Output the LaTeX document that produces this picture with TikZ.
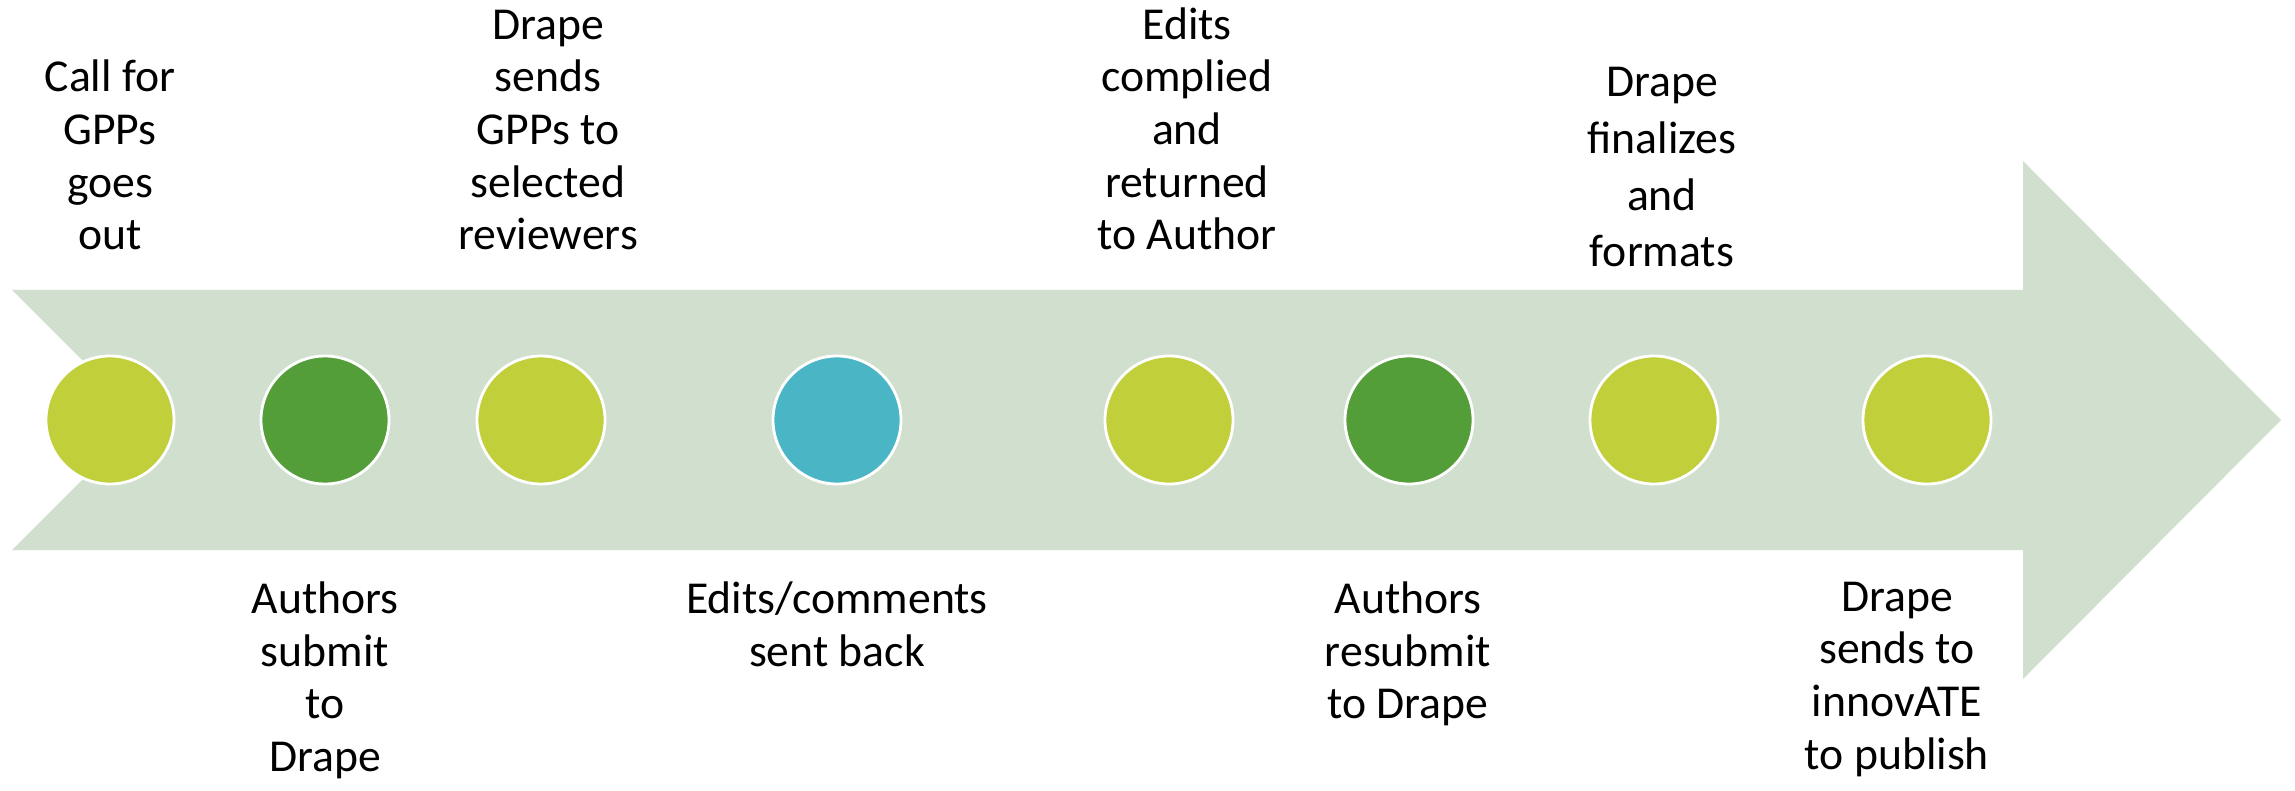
\documentclass[tikz,border=0pt]{standalone}
\usepackage{fontspec}
\setmainfont{Carlito}

\definecolor{bandgreen}{HTML}{D1E0CE}
\definecolor{stagelime}{HTML}{C0CF3A}
\definecolor{stagegreen}{HTML}{549E39}
\definecolor{stageblue}{HTML}{4AB5C4}

\begin{document}
\begin{tikzpicture}[
    stage/.style={circle,draw=white,line width=0.8pt,minimum size=1.28cm,inner sep=0pt},
    above label/.style={anchor=south,align=center,inner sep=0pt,font=\fontsize{13}{15}\selectfont},
    below label/.style={anchor=north,align=center,inner sep=0pt,font=\fontsize{13}{15}\selectfont}
]
    \useasboundingbox (0,-3.71) rectangle (22.95,4.20);

    % Timeline arrow with notched tail
    \fill[bandgreen] (0.12,1.30) -- (20.23,1.30) -- (20.23,2.59) -- (22.81,0)
        -- (20.23,-2.59) -- (20.23,-1.30) -- (0.12,-1.30) -- (1.42,0) -- cycle;

    % Stages along the arrow
    \node[stage,fill=stagelime]  (call)      at (1.10,0)  {};
    \node[stage,fill=stagegreen] (submit)    at (3.25,0)  {};
    \node[stage,fill=stagelime]  (review)    at (5.41,0)  {};
    \node[stage,fill=stageblue]  (comments)  at (8.37,0)  {};
    \node[stage,fill=stagelime]  (complied)  at (11.69,0) {};
    \node[stage,fill=stagegreen] (resubmit)  at (14.09,0) {};
    \node[stage,fill=stagelime]  (finalize)  at (16.54,0) {};
    \node[stage,fill=stagelime]  (publish)   at (19.27,0) {};

    % Labels above the arrow
    \node[above label] (call text)     at (1.10,1.69)  {Call for\\GPPs\\goes\\out};
    \node[above label] (review text)   at (5.48,1.69)  {Drape\\sends\\GPPs to\\selected\\reviewers};
    \node[above label] (complied text) at (11.87,1.69) {Edits\\complied\\and\\returned\\to Author};
    \node[above label,font=\fontsize{13}{16.2}\selectfont] (finalize text) at (16.62,1.52)
        {Drape\\finalizes\\and\\formats};

    % Labels below the arrow
    \node[below label] (submit text)   at (3.25,-1.61)  {Authors\\submit\\to\\Drape};
    \node[below label] (comments text) at (8.37,-1.61)  {Edits/comments\\sent back};
    \node[below label] (resubmit text) at (14.08,-1.61) {Authors\\resubmit\\to Drape};
    \node[below label] (publish text)  at (18.97,-1.61) {Drape\\sends to\\innovATE\\to publish};
\end{tikzpicture}
\end{document}
